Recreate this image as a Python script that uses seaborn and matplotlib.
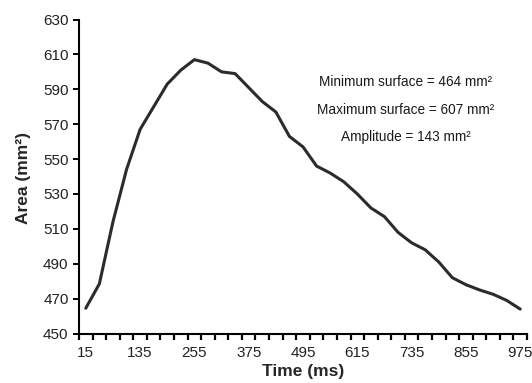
import numpy as np
import pandas as pd
import matplotlib
matplotlib.use("Agg")
import matplotlib.pyplot as plt
import seaborn as sns

# Data (time in ms, area in mm2)
times = [15, 45, 75, 105, 135, 165, 195, 225, 255, 285, 315, 345, 375, 405, 435,
         465, 495, 525, 555, 585, 615, 645, 675, 705, 735, 765, 795, 825, 855,
         885, 915, 945, 975]
area = [464.5, 478.5, 514, 544, 567, 580, 593, 601, 607, 605, 600, 599, 591, 583,
        577, 563, 557, 546, 542, 537, 530, 522, 517, 508, 502, 498, 491, 482, 478,
        475, 472.5, 469, 464]
tick_labels = [15, 135, 255, 375, 495, 615, 735, 855, 975]
y_ticks = [450, 470, 490, 510, 530, 550, 570, 590, 610, 630]
notes = ["Minimum surface = 464 mm\u00b2",
         "Maximum surface = 607 mm\u00b2",
         "Amplitude = 143 mm\u00b2"]

sns.set_style("ticks")
plt.rcParams['font.family'] = ['Liberation Sans', 'DejaVu Sans']

df = pd.DataFrame({"Time": times, "Area": area})

fig = plt.figure(figsize=(5.32, 3.83), dpi=100)
ax = fig.add_axes([0.1485, 0.1292, 0.8421, 0.8198])

sns.lineplot(data=df, x="Time", y="Area", color="#2b2b2b", linewidth=2.2, ax=ax)

# category-style axis: ticks on boundaries, labels in between
ax.set_xlim(0, 990)
ax.set_ylim(450, 630)
ax.set_xticks(tick_labels)
ax.set_xticklabels([str(t) for t in tick_labels])
ax.set_xticks(np.arange(0, 991, 30), minor=True)
ax.tick_params(axis="x", which="major", length=0, pad=9, labelsize=11, colors="#222222")
ax.tick_params(axis="x", which="minor", length=4, width=1.6, direction="out", color="black")
ax.set_yticks(y_ticks)
ax.tick_params(axis="y", length=4, width=1.4, pad=3.5, labelsize=11, colors="#222222")
ax.tick_params(axis="y", color="black")

for side in ["top", "right"]:
    ax.spines[side].set_visible(False)
for side in ["left", "bottom"]:
    ax.spines[side].set_linewidth(1.5)
    ax.spines[side].set_color("black")

ax.set_xlabel("Time (ms)", fontsize=12.5, fontweight="bold")
ax.xaxis.set_label_coords(0.5, -0.097)
ax.set_ylabel("")
fig.text(24 / 532, 1 - 178 / 383, "Area (mm\u00b2)", rotation=90, ha="center", va="center",
         fontsize=12.5, fontweight="bold")

for i, txt in enumerate(notes):
    fig.text(0.763, 0.787 - i * 0.073, txt, ha="center", va="center", fontsize=9.8, color="#1a1a1a")

fig.savefig("out.png", dpi=100)
